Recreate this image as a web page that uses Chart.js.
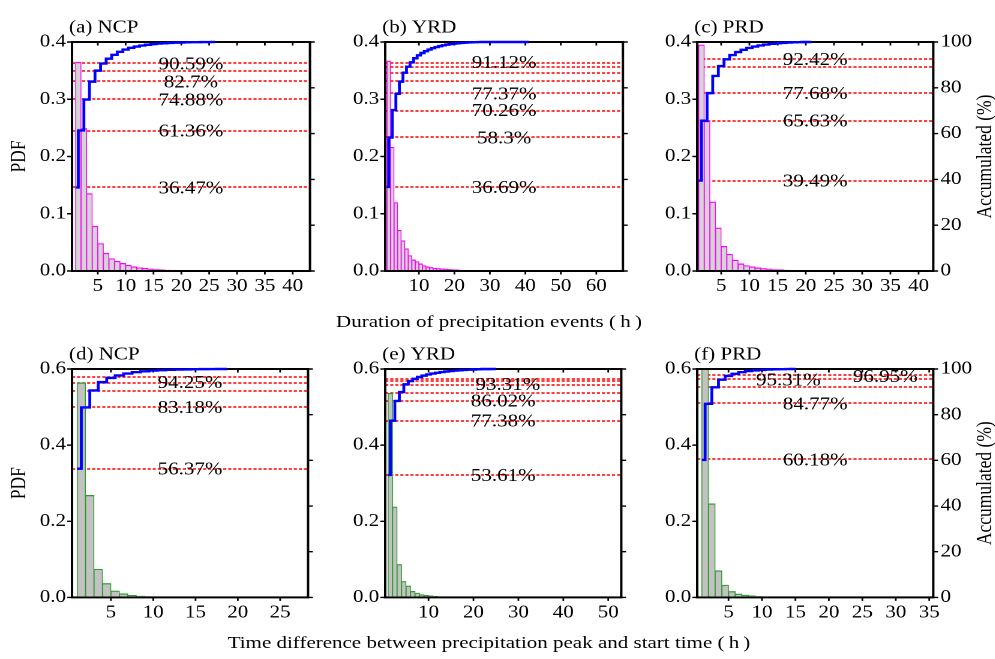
<!DOCTYPE html>
<html>
<head>
<meta charset="utf-8">
<script src="https://cdn.jsdelivr.net/npm/chart.js@4.4.0/dist/chart.umd.min.js"></script>
<style>
html, body { margin: 0; padding: 0; background: #fff; overflow: hidden; }
#fig { position: absolute; left: 0; top: 0; width: 830px; height: 659px;
       transform: scaleX(1.2); transform-origin: 0 0;
       font-family: "Liberation Serif", "Times New Roman", serif; color: #000; }
.panel { position: absolute; width: 320px; height: 299px; }
.xtitle { position: absolute; left: 0; width: 815px; text-align: center;
          font-size: 17.5px; line-height: 17.5px; white-space: nowrap; }
</style>
</head>
<body>
<div id="fig">
  <div class="panel" style="left:0px;top:0px"><canvas id="ca" width="320" height="299"></canvas></div>
  <div class="panel" style="left:260.8px;top:0px"><canvas id="cb" width="320" height="299"></canvas></div>
  <div class="panel" style="left:520.8px;top:0px"><canvas id="cc" width="320" height="299"></canvas></div>
  <div class="panel" style="left:0.2px;top:327px"><canvas id="cd" width="320" height="299"></canvas></div>
  <div class="panel" style="left:260.8px;top:327px"><canvas id="ce" width="320" height="299"></canvas></div>
  <div class="panel" style="left:520.8px;top:327px"><canvas id="cf" width="320" height="299"></canvas></div>
  <div class="xtitle" style="top:312.5px">Duration of precipitation events (&#8201;h&#8201;)</div>
  <div class="xtitle" style="top:633.5px">Time difference between precipitation peak and start time (&#8201;h&#8201;)</div>
</div>
<script>
// tick labels
const X_TICKS_A = [5, 10, 15, 20, 25, 30, 35, 40];
const X_TICKS_B = [10, 20, 30, 40, 50, 60];
const X_TICKS_C = [5, 10, 15, 20, 25, 30, 35, 40];
const X_TICKS_D = [5, 10, 15, 20, 25];
const X_TICKS_E = [10, 20, 30, 40, 50];
const X_TICKS_F = [5, 10, 15, 20, 25, 30, 35];
const PDF_TICKS_TOP = [0, 0.1, 0.2, 0.3, 0.4];
const PDF_TICKS_BOTTOM = [0, 0.2, 0.4, 0.6];
const ACC_TICKS = [0, 20, 40, 60, 80, 100];

// duration of precipitation events (1 h bins)
const PDF_A = [0.3647, 0.2489, 0.1352, 0.0782, 0.048, 0.031, 0.0215, 0.017, 0.0134, 0.010,
               0.0075, 0.0058, 0.0047, 0.0035, 0.0028, 0.002, 0.0015, 0.0012, 0.0009, 0.0006];
const CUM_A = [36.47, 61.36, 74.88, 82.7, 87.5, 90.59, 92.7, 94.4, 95.7, 96.7, 97.45, 98.0, 98.45,
               98.8, 99.1, 99.3, 99.45, 99.6, 99.7, 99.78, 99.85, 99.9, 99.93, 99.96, 99.98, 100];
const LEVELS_A = [36.47, 61.36, 74.88, 82.7, 87.5, 90.59];
const LABELS_A = [36.47, 61.36, 74.88, 82.7, 90.59];
const END_A = 25.7;

const PDF_B = [0.3669, 0.2161, 0.1196, 0.0711, 0.053, 0.039, 0.027, 0.0195, 0.0165, 0.0125,
               0.0095, 0.0075, 0.0062, 0.0052, 0.0045, 0.004, 0.0035, 0.003, 0.0025, 0.002,
               0.0016, 0.0013, 0.001, 0.0008];
const CUM_B = [36.69, 58.3, 70.26, 77.37, 82.7, 86.6, 89.2, 91.12, 92.9, 94.2, 95.2, 96.0, 96.7,
               97.3, 97.8, 98.2, 98.55, 98.85, 99.1, 99.3, 99.45, 99.6, 99.7, 99.8, 99.87, 99.92,
               99.96, 100];
const LEVELS_B = [36.69, 58.3, 70.26, 77.37, 82.7, 86.6, 89.2, 91.12];
const LABELS_B = [36.69, 58.3, 70.26, 77.37, 91.12];
const END_B = 41;

const PDF_C = [0.3949, 0.2614, 0.1205, 0.0752, 0.043, 0.0292, 0.019, 0.0125, 0.0095, 0.0075,
               0.0055, 0.0045, 0.0035, 0.0025, 0.002, 0.0015, 0.001, 0.0008, 0.0005];
const CUM_C = [39.49, 65.63, 77.68, 85.2, 89.5, 92.42, 94.3, 95.6, 96.6, 97.4, 98.0, 98.5, 98.9,
               99.2, 99.45, 99.62, 99.75, 99.85, 99.92, 99.96, 100];
const LEVELS_C = [39.49, 65.63, 77.68, 89.5, 92.42];
const LABELS_C = [39.49, 65.63, 77.68, 92.42];
const END_C = 19;

// time from start to precipitation peak (1 h bins)
const PDF_D = [0.5637, 0.2681, 0.0742, 0.0365, 0.017, 0.0096, 0.0055, 0.0035, 0.002];
const CUM_D = [56.37, 83.18, 90.6, 94.25, 96.1, 97.2, 98.0, 98.6, 99.0, 99.3, 99.5, 99.65, 99.75,
               99.83, 99.9, 99.95, 99.98, 100];
const LEVELS_D = [56.37, 83.18, 90.6, 94.25, 96.1];
const LABELS_D = [56.37, 83.18, 94.25];
const END_D = 18.7;

const PDF_E = [0.5361, 0.2377, 0.0864, 0.042, 0.03, 0.0158, 0.0114, 0.0075, 0.0055, 0.004,
               0.003, 0.0022, 0.0016, 0.0011, 0.0008];
const CUM_E = [53.61, 77.38, 86.02, 89.9, 93.31, 94.7, 95.7, 96.5, 97.1, 97.6, 98.0, 98.35, 98.65,
               98.9, 99.1, 99.3, 99.45, 99.58, 99.7, 99.78, 99.85, 99.9, 99.94, 99.97, 100];
const LEVELS_E = [53.61, 77.38, 86.02, 89.9, 93.31, 94.7, 95.7];
const LABELS_E = [53.61, 77.38, 86.02, 93.31];
const END_E = 21.5;

const PDF_F = [0.6018, 0.2459, 0.07, 0.0325, 0.0155, 0.009, 0.006, 0.004, 0.0025];
const CUM_F = [60.18, 84.77, 92.0, 95.31, 96.95, 97.9, 98.6, 99.1, 99.4, 99.6, 99.75, 99.85,
               99.92, 99.96, 100];
const LEVELS_F = [60.18, 84.77, 92.0, 95.31, 96.95];
const LABELS_F = [60.18, 84.77, 95.31, 96.95];
const END_F = 14;

Chart.defaults.font.family = '"Liberation Serif", "Times New Roman", serif';
Chart.defaults.font.size = 17.5;
Chart.defaults.color = '#000';

const FONT = '17.5px "Liberation Serif", "Times New Roman", serif';
const LEFT_W = 60, TOP_H = 42;

// red reference lines, frame, ticks, labels and titles
const decor = {
  id: 'decor',
  beforeDatasetsDraw(chart, args, o) {
    const { ctx, chartArea: a } = chart;
    const { x, y, y2 } = chart.scales;
    ctx.save();
    ctx.strokeStyle = '#ff0000';
    ctx.lineWidth = 1.6;
    ctx.setLineDash([2.6, 1.6]);
    o.levels.forEach(v => {
      // keep the dashed line on an even pair of screen rows so it stays clearly red
      const raw = y2.getPixelForValue(v) + o.rowTop;
      const py = Math.round((raw - 1) / 2) * 2 + 1 - o.rowTop;
      ctx.beginPath();
      ctx.moveTo(a.left, py);
      ctx.lineTo(a.right, py);
      ctx.stroke();
    });
    ctx.setLineDash([]);
    ctx.strokeStyle = '#000';
    ctx.lineWidth = 1.4;
    ctx.beginPath();
    o.yTicks.forEach(v => {
      const py = y.getPixelForValue(v);
      ctx.moveTo(a.left - 4, py); ctx.lineTo(a.left, py);
    });
    ACC_TICKS.forEach(v => {
      const py = y2.getPixelForValue(v);
      ctx.moveTo(a.right, py); ctx.lineTo(a.right + 4, py);
    });
    o.xTicks.forEach(v => {
      const px = x.getPixelForValue(v);
      ctx.moveTo(px, a.bottom); ctx.lineTo(px, a.bottom + 3.5);
      ctx.moveTo(px, a.top); ctx.lineTo(px, a.top + 3.5);
    });
    ctx.stroke();
    ctx.lineWidth = 2;
    ctx.strokeRect(a.left, a.top, a.right - a.left, a.bottom - a.top);
    ctx.restore();
  },
  afterDatasetsDraw(chart, args, o) {
    const { ctx, chartArea: a } = chart;
    const y2 = chart.scales.y2;
    ctx.save();
    ctx.font = FONT;
    ctx.fillStyle = '#000';
    ctx.textBaseline = 'alphabetic';
    ctx.textAlign = 'center';
    o.labels.forEach(v => {
      const f = o.labelAt[String(v)] !== undefined ? o.labelAt[String(v)] : 0.5;
      ctx.fillText(v + '%', a.left + f * (a.right - a.left), y2.getPixelForValue(v) + 5.8);
    });
    ctx.textAlign = 'left';
    ctx.fillText(o.title, a.left - 2.5, a.top - 9.5);
    ctx.textAlign = 'center';
    const midY = (a.top + a.bottom) / 2;
    if (o.leftTitle) {
      ctx.save();
      ctx.translate(a.left - 45 + 5.8, midY);
      ctx.rotate(-Math.PI / 2);
      ctx.fillText('PDF', 0, 0);
      ctx.restore();
    }
    if (o.rightTitle) {
      ctx.save();
      ctx.translate(a.right + 42.5 + 5.8, midY);
      ctx.rotate(-Math.PI / 2);
      ctx.fillText('Accumulated (%)', 0, 0);
      ctx.restore();
    }
    ctx.restore();
  }
};

function makePanel(p) {
  const rightW = 320 - LEFT_W - p.plotW;
  const bottomH = 299 - TOP_H - p.plotH;
  const bars = p.pdf.map((v, i) => ({ x: i + 1.5, y: v }));
  const steps = p.cum.map((v, i) => ({ x: i + 1, y: v })).concat([{ x: p.end, y: 100 }]);
  new Chart(document.getElementById(p.canvas), {
    type: 'bar',
    data: {
      datasets: [{
        type: 'line',
        data: steps,
        yAxisID: 'y2',
        stepped: 'middle',
        borderColor: '#0000ff',
        borderWidth: 2.4,
        pointRadius: 0,
        fill: false,
        clip: 4,
        order: 0
      }, {
        type: 'bar',
        data: bars,
        yAxisID: 'y',
        backgroundColor: p.fill,
        borderColor: p.edge,
        borderWidth: { top: 1.2, left: 0.8, right: 0.8, bottom: 0 },
        borderSkipped: 'start',
        barPercentage: 1,
        categoryPercentage: 1,
        clip: { left: -1, top: -1, right: -1, bottom: -1 },
        order: 1
      }]
    },
    options: {
      responsive: false,
      devicePixelRatio: 2,
      animation: false,
      layout: { padding: { top: TOP_H, left: 0, right: 0, bottom: 0 } },
      plugins: {
        legend: { display: false },
        tooltip: { enabled: false },
        decor: {
          levels: p.levels, labels: p.labels, labelAt: p.labelAt || {},
          xTicks: p.xTicks, yTicks: p.yTicks, title: p.title, rowTop: p.rowTop,
          leftTitle: !!p.leftTitle, rightTitle: !!p.rightTitle
        }
      },
      scales: {
        x: {
          type: 'linear', min: p.xMin, max: p.xMax, offset: false,
          grid: { display: false, drawTicks: false }, border: { display: false },
          afterBuildTicks: s => { s.ticks = p.xTicks.map(v => ({ value: v })); },
          afterFit: s => { s.height = bottomH; },
          ticks: { autoSkip: false, maxRotation: 0, padding: 5, callback: v => String(v) }
        },
        y: {
          position: 'left', min: 0, max: p.yMax,
          grid: { display: false, drawTicks: false }, border: { display: false },
          afterBuildTicks: s => { s.ticks = p.yTicks.map(v => ({ value: v })); },
          afterFit: s => { s.width = LEFT_W; },
          ticks: { padding: 5, callback: v => v.toFixed(1) }
        },
        y2: {
          position: 'right', min: 0, max: 100,
          grid: { display: false, drawTicks: false }, border: { display: false },
          afterBuildTicks: s => { s.ticks = ACC_TICKS.map(v => ({ value: v })); },
          afterFit: s => { s.width = rightW; },
          ticks: { display: !!p.rightTitle, padding: 6, callback: v => String(v) }
        }
      }
    },
    plugins: [decor]
  });
}

const TOP_ROW = { yMax: 0.4, yTicks: PDF_TICKS_TOP, edge: '#ff00ff', fill: '#d4d4d4', plotH: 229, rowTop: 0 };
const BOTTOM_ROW = { yMax: 0.6, yTicks: PDF_TICKS_BOTTOM, edge: '#2a9a2a', fill: '#c2c2c2', plotH: 228.4, rowTop: 327 };

[
  Object.assign({ canvas: 'ca', title: '(a) NCP', pdf: PDF_A, cum: CUM_A, end: END_A, levels: LEVELS_A,
    labels: LABELS_A, xTicks: X_TICKS_A, xMin: 0.37, xMax: 43.1, plotW: 198.3, leftTitle: true }, TOP_ROW),
  Object.assign({ canvas: 'cb', title: '(b) YRD', pdf: PDF_B, cum: CUM_B, end: END_B, levels: LEVELS_B,
    labels: LABELS_B, xTicks: X_TICKS_B, xMin: 0.5, xMax: 67.5, plotW: 198.1 }, TOP_ROW),
  Object.assign({ canvas: 'cc', title: '(c) PRD', pdf: PDF_C, cum: CUM_C, end: END_C, levels: LEVELS_C,
    labels: LABELS_C, xTicks: X_TICKS_C, xMin: 0.75, xMax: 42.6, plotW: 196.7, rightTitle: true }, TOP_ROW),
  Object.assign({ canvas: 'cd', title: '(d) NCP', pdf: PDF_D, cum: CUM_D, end: END_D, levels: LEVELS_D,
    labels: LABELS_D, xTicks: X_TICKS_D, xMin: 0.4, xMax: 28.3, plotW: 196.7, leftTitle: true }, BOTTOM_ROW),
  Object.assign({ canvas: 'ce', title: '(e) YRD', pdf: PDF_E, cum: CUM_E, end: END_E, levels: LEVELS_E,
    labels: LABELS_E, xTicks: X_TICKS_E, xMin: 0.36, xMax: 52.9, plotW: 196.7,
    labelAt: { '93.31': 0.52 } }, BOTTOM_ROW),
  Object.assign({ canvas: 'cf', title: '(f) PRD', pdf: PDF_F, cum: CUM_F, end: END_F, levels: LEVELS_F,
    labels: LABELS_F, xTicks: X_TICKS_F, xMin: 0.32, xMax: 35.6, plotW: 196.7, rightTitle: true,
    labelAt: { '95.31': 0.386, '96.95': 0.797 } }, BOTTOM_ROW)
].forEach(makePanel);
</script>
</body>
</html>
